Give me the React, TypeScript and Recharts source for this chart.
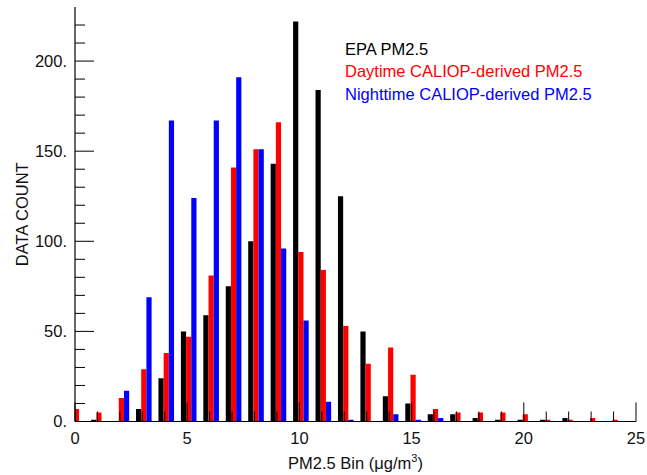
import React from 'react';
import { ComposedChart, Bar, XAxis, YAxis, Legend } from 'recharts';

const bins = [0, 1, 2, 3, 4, 5, 6, 7, 8, 9, 10, 11, 12, 13, 14, 15, 16, 17, 18, 19, 20, 21, 22, 23, 24];
const epaCounts = [0, 1, 0, 7, 24, 50, 59, 75, 100, 143, 222, 184, 125, 50, 14, 10, 4, 4, 2, 1, 1, 1, 2, 0, 0];
const dayCounts = [7, 5, 13, 29, 38, 47, 81, 141, 151, 166, 94, 84, 53, 32, 41, 26, 7, 5, 5, 5, 4, 1, 1, 2, 1];
const nightCounts = [0, 0, 17, 69, 167, 124, 167, 191, 151, 96, 56, 11, 1, 0, 4, 1, 2, 0, 0, 0, 0, 0, 0, 0, 0];

const xTicks = [0, 1, 2, 3, 4, 5, 6, 7, 8, 9, 10, 11, 12, 13, 14, 15, 16, 17, 18, 19, 20, 21, 22, 23, 24, 25];
const yTicks = [0, 10, 20, 30, 40, 50, 60, 70, 80, 90, 100, 110, 120, 130, 140, 150, 160, 170, 180, 190, 200, 210, 220];

const seriesKeys = ['epa', 'day', 'night'];
const seriesNames = ['EPA PM2.5', 'Daytime CALIOP-derived PM2.5', 'Nighttime CALIOP-derived PM2.5'];
const seriesColors = ['#000000', '#ff0000', '#0000ff'];

const data = bins.map((b, i) => ({ bin: b, epa: epaCounts[i], day: dayCounts[i], night: nightCounts[i] }));

const FONT = '"Liberation Sans", Arial, Helvetica, sans-serif';
const FS = 16.5;
const TXT = '#111111';
const BIN_SHIFT = 0.085;

const BottomTick = (props: any) => {
  const { x, y, payload } = props;
  const v = payload.value;
  const major = v % 5 === 0;
  return (
    <g>
      <line x1={x} x2={x} y1={y} y2={y - (major ? 19 : 10)} stroke="#000" strokeWidth={1} />
      {major && (
        <text x={x} y={y + 16.5} dy="0.355em" textAnchor="middle" fontSize={FS} fontFamily={FONT} fill={TXT}>
          {v}
        </text>
      )}
    </g>
  );
};

const TopTick = (props: any) => {
  const { x, y, payload } = props;
  const major = payload.value % 5 === 0;
  return <line x1={x} x2={x} y1={y} y2={y + (major ? 19 : 10)} stroke="#000" strokeWidth={1} />;
};

const LeftTick = (props: any) => {
  const { x, y, payload } = props;
  const v = payload.value;
  const major = v % 50 === 0;
  return (
    <g>
      <line x1={x} x2={x + (major ? 19 : 10)} y1={y} y2={y} stroke="#000" strokeWidth={1} />
      {major && (
        <text x={x - 8} y={y} dy="0.355em" textAnchor="end" fontSize={FS} fontFamily={FONT} fill={TXT}>
          {v + '.'}
        </text>
      )}
    </g>
  );
};

const RightTick = (props: any) => {
  const { x, y, payload } = props;
  const major = payload.value % 50 === 0;
  return <line x1={x} x2={x - (major ? 19 : 10)} y1={y} y2={y} stroke="#000" strokeWidth={1} />;
};

const XTitle = (props: any) => {
  const { x, y, width } = props.viewBox;
  return (
    <text x={x + width / 2} y={y + 47} textAnchor="middle" fontSize={FS} fontFamily={FONT} fill={TXT}>
      <tspan>PM2.5 Bin (μg/m</tspan>
      <tspan dy={-7} fontSize={11}>3</tspan>
      <tspan dy={7}>)</tspan>
    </text>
  );
};

const YTitle = (props: any) => {
  const { y, height } = props.viewBox;
  const cx = 22;
  const cy = y + height / 2;
  return (
    <text x={cx} y={cy} dy="0.355em" textAnchor="middle" fontSize={FS} fontFamily={FONT} fill={TXT}
      transform={`rotate(-90, ${cx}, ${cy})`}>
      DATA COUNT
    </text>
  );
};

const LegendContent = (props: any) => {
  const payload = [...(props.payload || [])].sort(
    (a: any, b: any) => seriesNames.indexOf(a.value) - seriesNames.indexOf(b.value)
  );
  return (
    <div style={{ fontFamily: FONT, fontSize: FS, lineHeight: '22.5px', whiteSpace: 'nowrap' }}>
      {payload.map((e: any) => (
        <div key={e.value} style={{ color: e.color }}>{e.value}</div>
      ))}
    </div>
  );
};

export default function App() {
  return (
    <div style={{ position: 'absolute', left: 0, top: 0, width: 647, height: 475, background: '#fff' }}>
      <ComposedChart
        width={647}
        height={475}
        data={data}
        margin={{ top: 7, right: 11, bottom: 0, left: 0 }}
        barGap={0}
        barCategoryGap={0}
      >
        <XAxis
          xAxisId="bars"
          dataKey="bin"
          type="number"
          domain={[-BIN_SHIFT, 25 - BIN_SHIFT]}
          allowDataOverflow
          height={0}
          hide
        />
        <XAxis
          xAxisId="bottom"
          dataKey="bin"
          type="number"
          orientation="bottom"
          domain={[0, 25]}
          ticks={xTicks}
          interval={0}
          allowDataOverflow
          height={53.5}
          tickSize={0}
          tickMargin={0}
          tickLine={false}
          axisLine={{ stroke: '#000', strokeWidth: 1.2 }}
          tick={BottomTick}
          label={XTitle}
        />
        <XAxis
          xAxisId="top"
          dataKey="bin"
          type="number"
          orientation="top"
          domain={[0, 25]}
          ticks={xTicks}
          interval={0}
          allowDataOverflow
          height={0}
          tickSize={0}
          tickMargin={0}
          tickLine={false}
          axisLine={{ stroke: '#000', strokeWidth: 1.2 }}
          tick={TopTick}
        />
        <YAxis
          yAxisId="left"
          type="number"
          domain={[0, 230]}
          ticks={yTicks}
          interval={0}
          allowDataOverflow
          width={75}
          tickSize={0}
          tickMargin={0}
          tickLine={false}
          axisLine={{ stroke: '#000', strokeWidth: 1.2 }}
          tick={LeftTick}
          label={YTitle}
        />
        <YAxis
          yAxisId="right"
          orientation="right"
          type="number"
          domain={[0, 230]}
          ticks={yTicks}
          interval={0}
          allowDataOverflow
          width={0}
          tickSize={0}
          tickMargin={0}
          tickLine={false}
          axisLine={{ stroke: '#000', strokeWidth: 1.2 }}
          tick={RightTick}
        />
        <Legend
          layout="vertical"
          align="center"
          verticalAlign="middle"
          wrapperStyle={{ left: 345, top: 37.5, width: 'auto', height: 'auto' }}
          content={LegendContent}
        />
        {seriesKeys.map((k, i) => (
          <Bar
            key={k}
            dataKey={k}
            name={seriesNames[i]}
            fill={seriesColors[i]}
            xAxisId="bars"
            yAxisId="left"
            barSize={5.2}
            isAnimationActive={false}
          />
        ))}
      </ComposedChart>
    </div>
  );
}
